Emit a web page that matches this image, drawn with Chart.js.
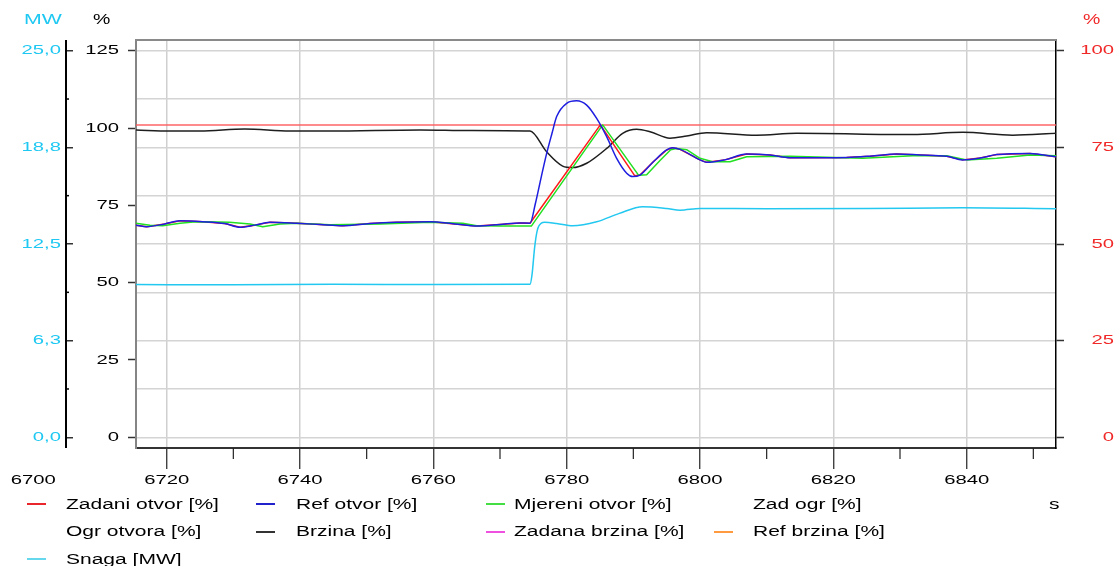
<!DOCTYPE html>
<html>
<head>
<meta charset="utf-8">
<script src="https://cdn.jsdelivr.net/npm/chart.js@4.4.1/dist/chart.umd.min.js"></script>
<style>
  html, body { margin: 0; padding: 0; background: #fff; }
  #wrap { position: relative; width: 1114px; height: 566px; overflow: hidden; }
  #c { position: absolute; left: 0; top: 0; }
  .txt { position: absolute; white-space: nowrap; font-family: "Liberation Sans", Arial, sans-serif;
         transform-origin: 0 50%; line-height: 17px; }
  .sw { position: absolute; height: 2px; width: 19px; }
</style>
</head>
<body>
<div id="wrap">
  <canvas id="c" width="1114" height="566"></canvas>
</div>
<script>
// ---------------- DATA ----------------
const seriesNames = ['Zadani otvor [%]', 'Ref otvor [%]', 'Mjereni otvor [%]', 'Zad ogr [%]',
                     'Ogr otvora [%]', 'Brzina [%]', 'Zadana brzina [%]', 'Ref brzina [%]', 'Snaga [MW]'];

// [time s, value]
const zadaniOtvor = [[6715.4,68.6],[6717.0,68.1],[6719.7,69.0],[6722.0,70.0],[6725.4,69.7],[6728.7,69.1],
  [6731.0,67.9],[6733.2,68.6],[6735.5,69.5],[6739.5,69.2],[6743.0,68.8],[6746.4,68.4],[6750.5,69.1],
  [6754.5,69.5],[6759.5,69.7],[6763.2,69.0],[6766.5,68.3],[6770.0,68.8],[6773.0,69.3],[6774.5,69.2],
  [6785.05,101.0],[6790.2,84.6],[6791.0,84.8],[6793.0,89.1],[6795.0,92.9],[6795.9,93.6],[6797.0,93.1],
  [6800.0,89.7],[6801.0,88.9],[6803.7,89.7],[6807.0,91.6],[6810.5,91.3],[6813.5,90.4],[6822.0,90.5],
  [6825.5,90.9],[6829.5,91.6],[6833.0,91.3],[6837.0,90.9],[6839.4,89.7],[6842.0,90.3],[6844.5,91.4],
  [6849.5,91.8],[6853.4,90.7]];

const refOtvor = [[6715.4,68.6],[6717.0,68.1],[6719.7,69.0],[6722.0,70.0],[6725.4,69.7],[6728.7,69.1],
  [6731.0,67.9],[6733.2,68.6],[6735.5,69.5],[6739.5,69.2],[6743.0,68.8],[6746.4,68.4],[6750.5,69.1],
  [6754.5,69.5],[6759.5,69.7],[6763.2,69.0],[6766.5,68.3],[6770.0,68.8],[6773.0,69.3],[6774.5,69.2],
  [6775.3,75.5],[6776.2,84.3],[6777.0,91.8],[6777.8,98.3],[6778.5,103.7],[6780.0,108.0],[6781.5,108.8],
  [6783.0,107.4],[6784.5,103.1],[6786.0,97.2],[6787.5,90.2],[6789.0,85.4],[6789.9,84.3],[6791.0,84.8],
  [6793.0,89.1],[6795.0,92.9],[6795.9,93.6],[6797.0,93.1],[6800.0,89.7],[6801.0,88.9],[6803.7,89.7],
  [6807.0,91.6],[6810.5,91.3],[6813.5,90.4],[6822.0,90.5],[6825.5,90.9],[6829.5,91.6],[6833.0,91.3],
  [6837.0,90.9],[6839.4,89.7],[6842.0,90.3],[6844.5,91.4],[6849.5,91.8],[6853.4,90.7]];

const mjereniOtvor = [[6715.4,69.2],[6717.5,68.6],[6719.4,68.4],[6722.0,69.2],[6724.0,69.6],[6726.0,69.7],
  [6729.4,69.5],[6732.5,69.0],[6734.4,68.1],[6737.0,69.0],[6739.5,69.2],[6744.5,68.7],[6752.0,69.0],
  [6759.5,69.5],[6764.4,69.2],[6766.5,68.4],[6770.0,68.3],[6774.7,68.3],[6785.4,101.0],[6790.8,84.7],
  [6792.0,84.9],[6794.0,89.5],[6795.6,93.0],[6796.5,93.4],[6798.0,93.0],[6800.0,90.2],[6801.9,89.1],
  [6804.5,89.1],[6807.0,90.7],[6813.5,90.9],[6824.4,90.2],[6831.9,91.0],[6837.0,91.0],[6840.0,89.7],
  [6844.5,90.2],[6849.5,91.3],[6853.4,91.0]];

const zadOgr = [];
const ogrOtvora = [];

const brzina = [[6715.4,99.4],[6720.5,99.0],[6725.0,99.0],[6731.7,99.7],[6738.5,99.0],[6744.5,99.0],
  [6758.0,99.4],[6765.5,99.2],[6774.5,99.0],[6777.0,92.3],[6779.4,87.7],[6780.9,87.2],[6783.0,88.6],
  [6786.0,93.4],[6788.4,98.3],[6790.5,99.6],[6792.5,98.8],[6795.5,96.7],[6798.0,97.4],[6801.0,98.5],
  [6808.5,97.7],[6814.5,98.3],[6831.9,97.9],[6839.4,98.6],[6846.9,97.7],[6853.4,98.3]];

const zadanaBrzina = [[6715.4,101.0],[6853.4,101.0]];
const refBrzina = [[6715.4,101.0],[6853.4,101.0]];

const snaga = [[6715.4,9.88],[6730.0,9.86],[6745.0,9.89],[6760.0,9.88],[6774.5,9.89],[6774.8,10.5],
  [6775.2,12.3],[6775.6,13.4],[6776.2,13.85],[6776.7,13.90],[6778.5,13.83],[6780.9,13.68],[6784.5,13.94],
  [6787.9,14.48],[6791.4,14.91],[6795.0,14.80],[6797.0,14.69],[6800.0,14.80],[6810.0,14.78],
  [6825.0,14.79],[6839.4,14.84],[6853.4,14.78]];

// ticks
const xTicks = [6720, 6740, 6760, 6780, 6800, 6820, 6840];
const xMinorTicks = [6730, 6750, 6770, 6790, 6810, 6830, 6850];
const xOuterLabel = 6700;
const pctTicks = [0, 25, 50, 75, 100, 125];
const rightTicks = [0, 25, 50, 75, 100];
const mwTicks = [0, 3.125, 6.25, 9.375, 12.5, 15.625, 18.75, 21.875, 25];
const mwMajor = [0, 6.25, 12.5, 18.75, 25];
const mwLabels = ['0,0', '6,3', '12,5', '18,8', '25,0'];
const mwMinorTicks = [3.125, 9.375, 15.625, 21.875];

// axis ranges
const xMin = 6715.4, xMax = 6853.4;
const pctMin = -3.46, pctMax = 128.46;

// ---------------- STYLE ----------------
const FONT = '"Liberation Sans", Arial, sans-serif';
const SX = 1.5; // horizontal text stretch of the original
const seriesSeries = [zadaniOtvor, refOtvor, mjereniOtvor, zadOgr, ogrOtvora, brzina, zadanaBrzina, refBrzina, snaga];
const lineStyles = [
  {c: '#ff1a1a', lg: '#e8262b', w: 1.5, t: 0,   o: 2, ax: 'y'},
  {c: '#1e1ee0', lg: '#2222cc', w: 1.5, t: 'm', o: 0, ax: 'y'},
  {c: '#22e022', lg: '#44dd44', w: 1.5, t: 0,   o: 1, ax: 'y'},
  {c: 'rgba(0,0,0,0)', lg: null, w: 1.5, t: 0, o: 8, ax: 'y'},
  {c: 'rgba(0,0,0,0)', lg: null, w: 1.5, t: 0, o: 9, ax: 'y'},
  {c: '#1e1e1e', lg: '#333333', w: 1.5, t: 'm', o: 3, ax: 'y'},
  {c: 'rgba(255,0,255,0.45)', lg: '#f050e0', w: 2, t: 0, o: 6, ax: 'y'},
  {c: 'rgba(255,140,0,0.45)', lg: '#ff9a40', w: 2, t: 0, o: 5, ax: 'y'},
  {c: '#22c8f0', lg: '#66d8ee', w: 1.5, t: 'm', o: 4, ax: 'mw'}
];

// stretch canvas text horizontally like the original
const canvas = document.getElementById('c');
const ctx2d = canvas.getContext('2d');
(function patch(ctx) {
  const of = ctx.fillText.bind(ctx), om = ctx.measureText.bind(ctx);
  ctx.fillText = function (text, x, y, maxWidth) {
    ctx.save(); ctx.translate(x, y); ctx.scale(SX, 1);
    if (maxWidth === undefined || maxWidth === null) of(text, 0, 0); else of(text, 0, 0, maxWidth / SX);
    ctx.restore();
  };
  ctx.measureText = function (text) {
    const m = om(text);
    return {width: m.width * SX, actualBoundingBoxAscent: m.actualBoundingBoxAscent,
            actualBoundingBoxDescent: m.actualBoundingBoxDescent,
            actualBoundingBoxLeft: m.actualBoundingBoxLeft * SX, actualBoundingBoxRight: m.actualBoundingBoxRight * SX};
  };
})(ctx2d);

const setTicks = vals => scale => { scale.ticks = vals.map(v => ({value: v})); };
const isMwMajor = v => mwMajor.some(m => Math.abs(m - v) < 1e-6);

const extras = {
  id: 'extras',
  afterDraw(chart) {
    const {ctx, chartArea: a, scales} = chart;
    const mw = scales.mw, x = scales.x;
    ctx.save();
    ctx.lineCap = 'butt';
    // top frame
    ctx.strokeStyle = '#8a8a8a'; ctx.lineWidth = 2;
    ctx.beginPath(); ctx.moveTo(a.left - 1, a.top); ctx.lineTo(a.right, a.top); ctx.stroke();
    // MW axis line
    const ax = mw.right - 7;
    ctx.strokeStyle = '#000'; ctx.lineWidth = 2;
    ctx.beginPath(); ctx.moveTo(ax, a.top); ctx.lineTo(ax, a.bottom); ctx.stroke();
    ctx.lineWidth = 1.5;
    mwMinorTicks.forEach(v => {
      const y = mw.getPixelForValue(v);
      ctx.beginPath(); ctx.moveTo(ax, y); ctx.lineTo(ax + 3, y); ctx.stroke();
    });
    // x minor ticks
    ctx.strokeStyle = '#222'; ctx.lineWidth = 1.2;
    xMinorTicks.forEach(v => {
      const px = x.getPixelForValue(v);
      if (px > a.right) return;
      ctx.beginPath(); ctx.moveTo(px, a.bottom); ctx.lineTo(px, a.bottom + 11); ctx.stroke();
    });
    // outer x label
    ctx.font = '13.5px ' + FONT; ctx.fillStyle = '#000';
    ctx.textAlign = 'center'; ctx.textBaseline = 'middle';
    ctx.fillText(String(xOuterLabel), x.getPixelForValue(xOuterLabel), a.bottom + 21 + 3 + 8.1);
    ctx.restore();
  }
};

Chart.defaults.font.family = FONT;
Chart.defaults.font.size = 13.5;

const chart = new Chart(ctx2d, {
  type: 'line',
  data: {
    datasets: seriesNames.map((name, i) => ({
      label: name,
      data: seriesSeries[i].map(p => ({x: p[0], y: p[1]})),
      borderColor: lineStyles[i].c,
      backgroundColor: lineStyles[i].c,
      borderWidth: lineStyles[i].w,
      pointRadius: 0,
      fill: false,
      tension: lineStyles[i].t === 'm' ? 0.4 : 0,
      cubicInterpolationMode: lineStyles[i].t === 'm' ? 'monotone' : 'default',
      order: lineStyles[i].o,
      yAxisID: lineStyles[i].ax,
      borderJoinStyle: 'round'
    }))
  },
  options: {
    responsive: false,
    devicePixelRatio: 1,
    animation: false,
    events: [],
    layout: {padding: {top: 40, bottom: 78, left: 0, right: 0}},
    plugins: {legend: {display: false}, tooltip: {enabled: false}},
    scales: {
      x: {
        type: 'linear', position: 'bottom', min: xMin, max: xMax,
        afterBuildTicks: setTicks(xTicks),
        afterFit: s => { s.height = 40; },
        ticks: {color: '#000', padding: 3, maxRotation: 0, autoSkip: false, includeBounds: false,
                callback: v => String(v), font: {size: 13.5}},
        grid: {color: '#cfcfcf', lineWidth: 1.5, tickLength: 21, tickColor: '#222', tickWidth: 1.2},
        border: {display: true, color: '#333', width: 2}
      },
      mw: {
        type: 'linear', position: 'left', weight: 2, min: pctMin / 5, max: pctMax / 5,
        afterBuildTicks: setTicks(mwTicks),
        afterFit: s => { s.width = 73; },
        ticks: {color: '#1ec8f2', padding: 5, autoSkip: false, includeBounds: false,
                callback: v => { const k = mwMajor.findIndex(m => Math.abs(m - v) < 1e-6); return k >= 0 ? mwLabels[k] : ''; }},
        grid: {color: '#d4d4d4', lineWidth: 1.5, tickLength: 7, tickWidth: 1.5,
               tickColor: c => (c.tick && isMwMajor(c.tick.value)) ? '#333' : 'rgba(0,0,0,0)'},
        border: {display: false}
      },
      y: {
        type: 'linear', position: 'left', weight: 1, min: pctMin, max: pctMax,
        afterBuildTicks: setTicks(pctTicks),
        afterFit: s => { s.width = 63; },
        ticks: {color: '#000', padding: 9, autoSkip: false, includeBounds: false, callback: v => String(v)},
        grid: {drawOnChartArea: false, tickLength: 8, tickColor: '#333', tickWidth: 1.5},
        border: {display: true, color: '#858585', width: 2}
      },
      yr: {
        type: 'linear', position: 'right', min: pctMin * 0.8, max: pctMax * 0.8,
        afterBuildTicks: setTicks(rightTicks),
        afterFit: s => { s.width = 58; },
        ticks: {color: '#f02828', padding: 11, crossAlign: 'far', autoSkip: false, includeBounds: false, callback: v => String(v)},
        grid: {drawOnChartArea: false, tickLength: 8, tickColor: '#333', tickWidth: 1.5},
        border: {display: true, color: '#000', width: 1.5}
      }
    }
  },
  plugins: [extras]
});

// ---------------- HTML legend & titles ----------------
const wrap = document.getElementById('wrap');
const colLine = [27, 256, 486, 714];
const colText = [66, 296, 514, 753];
const rowY = [504, 531.5, 559];
function addText(str, left, cy, size, color, sx) {
  const d = document.createElement('div');
  d.className = 'txt';
  d.textContent = str;
  d.style.left = left + 'px';
  d.style.top = (cy - 8.5) + 'px';
  d.style.fontSize = size + 'px';
  d.style.color = color;
  d.style.transform = 'scaleX(' + sx + ')';
  wrap.appendChild(d);
}
chart.data.datasets.forEach((ds, i) => {
  const r = Math.floor(i / 4), c = i % 4;
  if (lineStyles[i].lg) {
    const s = document.createElement('div');
    s.className = 'sw';
    s.style.left = colLine[c] + 'px';
    s.style.top = Math.round(rowY[r] - 1) + 'px';
    s.style.background = lineStyles[i].lg;
    wrap.appendChild(s);
  }
  addText(ds.label, colText[c], rowY[r], 14, '#000', SX);
});
addText('s', 1049, rowY[0], 14, '#000', SX);
addText('MW', 24, 18.5, 15, '#1ec8f2', 1.42);
addText('%', 93, 18.5, 15, '#000', 1.3);
addText('%', 1083, 18.5, 15, '#f02828', 1.3);
</script>
</body>
</html>
